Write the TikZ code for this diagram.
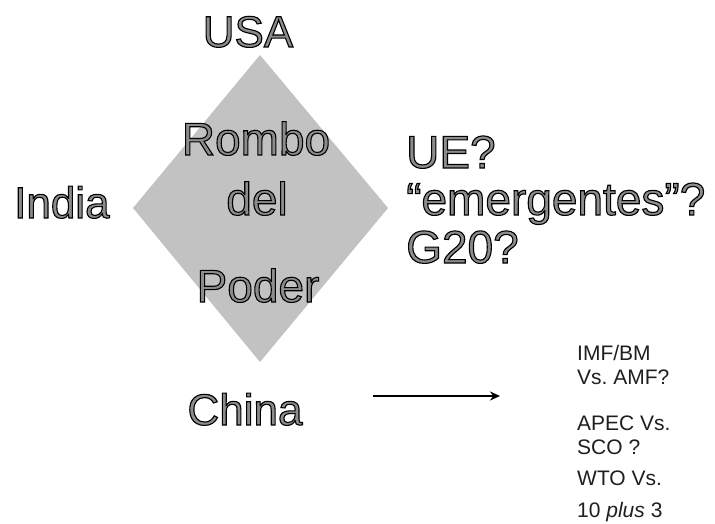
\documentclass[tikz,border=0pt]{standalone}
\usepackage{fontspec}
\setmainfont{Liberation Sans}
\usetikzlibrary{arrows.meta}
\definecolor{halftone}{gray}{0.55}
\definecolor{rhombfill}{gray}{0.76}
\definecolor{listtext}{gray}{0.12}
\newcommand{\outl}[1]{{\color{halftone}\special{pdf:code 0 G 1.1 w 2 Tr}#1\special{pdf:code 0 Tr}}}
\tikzset{
  big/.style={inner sep=0pt, font=\fontsize{44}{48}\selectfont},
  bigr/.style={inner sep=0pt, font=\fontsize{46}{50}\selectfont},
  small/.style={inner sep=0pt, anchor=base west, text=listtext, font=\fontsize{21}{24}\selectfont},
}
\begin{document}
\begin{tikzpicture}[x=1pt,y=-1pt]
\useasboundingbox (0,0) rectangle (715,524);
% diamond
\coordinate (T) at (260,55);
\coordinate (R) at (388,208);
\coordinate (B) at (260,362);
\coordinate (L) at (133,208);
\fill[rhombfill] (T) -- (R) -- (B) -- (L) -- cycle;
% labels
\node[big, anchor=base] (usa) at (248,47) {\outl{USA}};
\node[big, anchor=base west] (india) at (14,218) {\outl{India}};
\node[big, anchor=base] (china) at (245,425) {\outl{China}};
\node[bigr, anchor=base] (rombo) at (256,155) {\outl{Rombo}};
\node[bigr, anchor=base] (del) at (257,215) {\outl{del}};
\node[bigr, anchor=base] (poder) at (258,302) {\outl{Poder}};
\node[bigr, anchor=base west] (ue) at (406,168) {\outl{UE?}};
\node[bigr, anchor=base west] (emer) at (406,215) {\outl{“emergentes”?}};
\node[bigr, anchor=base west] (g20) at (406,263) {\outl{G20?}};
% right list
\node[small] (imf) at (577,360) {IMF/BM};
\node[small] (vs1) at (577,384) {Vs.\ AMF?};
\node[small] (apec) at (577,430) {APEC Vs.};
\node[small] (sco) at (577,454) {SCO ?};
\node[small] (wto) at (577,485) {WTO Vs.};
\node[small] (plus) at (577,517) {10 \textit{plus} 3};
% arrow
\coordinate (a1) at (373,396);
\coordinate (a2) at (500,396);
\draw[line width=2.2pt, -{Stealth[length=10pt,width=9pt,fill=gray!60]}] (a1) -- (a2);
\end{tikzpicture}
\end{document}
